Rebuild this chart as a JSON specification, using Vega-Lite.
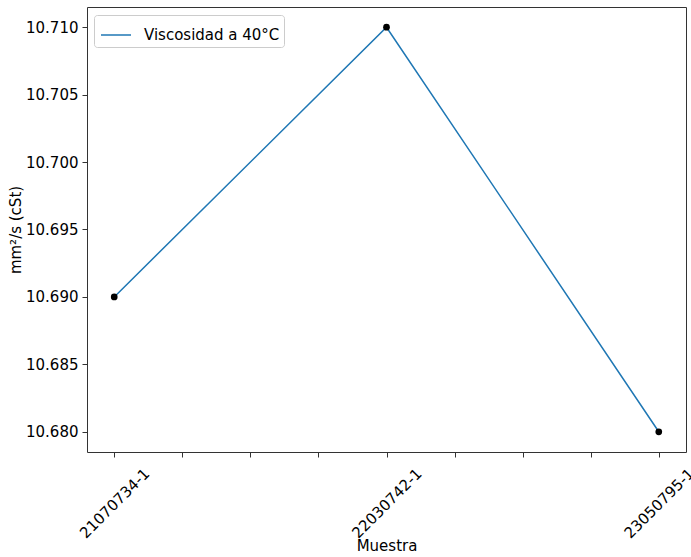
{
  "$schema": "https://vega.github.io/schema/vega-lite/v6.json",
  "width": 599,
  "height": 445,
  "autosize": "none",
  "padding": {"left": 87, "top": 7, "right": 5, "bottom": 105},
  "background": "white",
  "config": {
    "font": "DejaVu Sans",
    "view": {"stroke": "#333", "strokeWidth": 1},
    "axis": {
      "grid": false,
      "domain": false,
      "tickColor": "#333",
      "tickSize": 5,
      "labelFont": "DejaVu Sans",
      "titleFont": "DejaVu Sans",
      "labelFontSize": 15,
      "titleFontSize": 15,
      "labelColor": "#000",
      "titleColor": "#000",
      "titleFontWeight": "normal"
    }
  },
  "data": {
    "values": [
      {"idx": 0, "muestra": "21070734-1", "visc": 10.69, "serie": "Viscosidad a 40°C"},
      {"idx": 1, "muestra": "22030742-1", "visc": 10.71, "serie": "Viscosidad a 40°C"},
      {"idx": 2, "muestra": "23050795-1", "visc": 10.68, "serie": "Viscosidad a 40°C"}
    ]
  },
  "encoding": {
    "x": {
      "field": "idx",
      "type": "quantitative",
      "scale": {"domain": [-0.1, 2.1], "nice": false, "zero": false},
      "axis": {
        "title": "Muestra",
        "values": [0, 0.25, 0.5, 0.75, 1, 1.25, 1.5, 1.75, 2],
        "labelExpr": "datum.value == 0 ? '21070734-1' : datum.value == 1 ? '22030742-1' : datum.value == 2 ? '23050795-1' : ''",
        "labelAngle": -45,
        "labelAlign": "center",
        "labelBaseline": "middle",
        "labelPadding": 46,
        "titlePadding": -2,
        "labelOverlap": false,
        "labelFlush": false
      }
    },
    "y": {
      "field": "visc",
      "type": "quantitative",
      "scale": {"domain": [10.6785, 10.7115], "nice": false, "zero": false},
      "axis": {
        "title": "mm²/s (cSt)",
        "values": [10.68, 10.685, 10.69, 10.695, 10.7, 10.705, 10.71],
        "format": ".3f",
        "labelPadding": 4,
        "titlePadding": 2
      }
    }
  },
  "layer": [
    {
      "mark": {"type": "line", "strokeWidth": 1.5},
      "encoding": {
        "color": {
          "field": "serie",
          "type": "nominal",
          "scale": {"range": ["#1f77b4"]},
          "legend": {
            "title": null,
            "orient": "none",
            "legendX": 7,
            "legendY": 8,
            "symbolType": "M-1,0H1",
            "symbolSize": 900,
            "symbolStrokeWidth": 1.5,
            "labelFontSize": 15,
            "labelFont": "DejaVu Sans",
            "labelColor": "#000",
            "strokeColor": "#ccc",
            "fillColor": "white",
            "cornerRadius": 3,
            "padding": 4,
            "labelOffset": 12,
            "symbolOffset": 2
          }
        }
      }
    },
    {
      "mark": {"type": "point", "filled": true, "color": "black", "opacity": 1, "size": 45}
    }
  ]
}
